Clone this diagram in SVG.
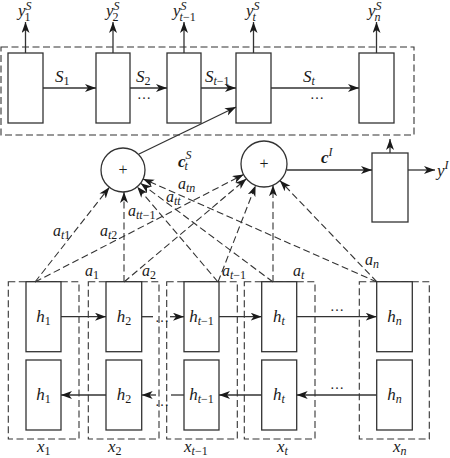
<svg xmlns="http://www.w3.org/2000/svg" width="450" height="458" viewBox="0 0 450 458">
<defs>
<style>
.box{fill:#fff;stroke:#333;stroke-width:1.3}
.dbox{fill:none;stroke:#333;stroke-width:1.1;stroke-dasharray:7 3.5}
.ln{stroke:#333;stroke-width:1.3;fill:none}
.dl{stroke:#333;stroke-width:1.1;stroke-dasharray:7 3.5;fill:none}
.arr{marker-end:url(#ah)}
text{font-family:"Liberation Serif","Times New Roman","DejaVu Serif",serif;font-style:italic;font-size:17px;fill:#1a1a1a}
.m{text-anchor:middle}
.s{font-size:12px}
.u{font-style:normal}
.b{font-weight:bold}
.dots{font-style:normal;font-size:14px}
</style>
<marker id="ah" markerUnits="userSpaceOnUse" markerWidth="12" markerHeight="9" refX="11" refY="4" orient="auto">
<path d="M0,0 L11,4 L0,8 L3,4 Z" fill="#1a1a1a" stroke="none"/>
</marker>
</defs>
<rect width="450" height="458" fill="#fff"/>

<g id="decoder-frame"><rect class="dbox" x="1" y="47" width="413" height="88"/></g>

<g id="s1"><rect class="box" x="8" y="53" width="35" height="70"/></g>
<g id="s2"><rect class="box" x="96" y="53" width="34" height="70"/></g>
<g id="s3"><rect class="box" x="167" y="53" width="34" height="70"/></g>
<g id="s4"><rect class="box" x="236" y="53" width="35" height="70"/></g>
<g id="s5"><rect class="box" x="359" y="53" width="35" height="70"/></g>

<g id="ys-labels">
<text x="18" y="16">y<tspan class="s" dy="-6">S</tspan><tspan class="s u" dx="-7" dy="11">1</tspan></text>
<text x="106" y="16">y<tspan class="s" dy="-6">S</tspan><tspan class="s u" dx="-7" dy="11">2</tspan></text>
<text x="173" y="16">y<tspan class="s" dy="-6">S</tspan><tspan class="s" dx="-7" dy="11">t</tspan><tspan class="s u">−1</tspan></text>
<text x="246" y="16">y<tspan class="s" dy="-6">S</tspan><tspan class="s" dx="-7" dy="11">t</tspan></text>
<text x="368" y="16">y<tspan class="s" dy="-6">S</tspan><tspan class="s" dx="-7" dy="11">n</tspan></text>
</g>

<g id="sum1"><circle class="box" cx="123" cy="170" r="22"/><text class="m u" x="123" y="175" style="font-size:16px">+</text></g>
<g id="sum2"><circle class="box" cx="264" cy="164" r="23"/><text class="m u" x="264" y="169" style="font-size:16px">+</text></g>
<g id="out"><rect class="box" x="372" y="153" width="36" height="69"/></g>

<g id="cols">
<rect class="dbox" x="8.3" y="281.7" width="70.7" height="157.3"/>
<rect class="dbox" x="88.3" y="281.7" width="70.7" height="157.3"/>
<rect class="dbox" x="166.7" y="281.7" width="70.6" height="157.3"/>
<rect class="dbox" x="244.3" y="281.7" width="70.7" height="157.3"/>
<rect class="dbox" x="359.3" y="281.7" width="70" height="157.3"/>
</g>

<g id="h1"><rect class="box" x="26" y="281.7" width="35" height="70"/><rect class="box" x="26" y="360" width="35" height="70"/>
<text class="m" x="43.5" y="322">h<tspan class="s u" dy="3">1</tspan></text><text class="m" x="43.5" y="400">h<tspan class="s u" dy="3">1</tspan></text></g>
<g id="h2"><rect class="box" x="106" y="281.7" width="35.7" height="70"/><rect class="box" x="106" y="360" width="35.7" height="70"/>
<text class="m" x="124" y="322">h<tspan class="s u" dy="3">2</tspan></text><text class="m" x="124" y="400">h<tspan class="s u" dy="3">2</tspan></text></g>
<g id="h3"><rect class="box" x="184" y="281.7" width="35" height="70"/><rect class="box" x="184" y="360" width="35" height="70"/>
<text class="m" x="201.5" y="322">h<tspan class="s" dy="3">t</tspan><tspan class="s u">−1</tspan></text><text class="m" x="201.5" y="400">h<tspan class="s" dy="3">t</tspan><tspan class="s u">−1</tspan></text></g>
<g id="h4"><rect class="box" x="261.7" y="281.7" width="35" height="70"/><rect class="box" x="261.7" y="360" width="35" height="70"/>
<text class="m" x="279" y="322">h<tspan class="s" dy="3">t</tspan></text><text class="m" x="279" y="400">h<tspan class="s" dy="3">t</tspan></text></g>
<g id="h5"><rect class="box" x="376.7" y="281.7" width="35.6" height="70"/><rect class="box" x="376.7" y="360" width="35.6" height="70"/>
<text class="m" x="394.5" y="322">h<tspan class="s" dy="3">n</tspan></text><text class="m" x="394.5" y="400">h<tspan class="s" dy="3">n</tspan></text></g>

<g id="x-labels">
<text x="37" y="452">x<tspan class="s u" dy="3">1</tspan></text>
<text x="108" y="452">x<tspan class="s u" dy="3">2</tspan></text>
<text x="184" y="452">x<tspan class="s" dy="3">t</tspan><tspan class="s u">−1</tspan></text>
<text x="277" y="452">x<tspan class="s" dy="3">t</tspan></text>
<text x="393" y="452">x<tspan class="s" dy="3">n</tspan></text>
</g>

<g id="connectors">
<line class="ln arr" x1="25.5" y1="53" x2="25.5" y2="22"/>
<line class="ln arr" x1="113" y1="53" x2="113" y2="22"/>
<line class="ln arr" x1="184" y1="53" x2="184" y2="22"/>
<line class="ln arr" x1="253.5" y1="53" x2="253.5" y2="22"/>
<line class="ln arr" x1="376.5" y1="53" x2="376.5" y2="22"/>
<line class="ln arr" x1="43" y1="88" x2="96" y2="88"/>
<line class="ln arr" x1="130" y1="88" x2="167" y2="88"/>
<line class="ln arr" x1="201" y1="88" x2="236" y2="88"/>
<line class="ln arr" x1="271" y1="88" x2="359" y2="88"/>
<line class="ln arr" x1="139" y1="154" x2="236" y2="107"/>
<line class="ln arr" x1="287" y1="170" x2="372" y2="170"/>
<line class="ln arr" x1="390" y1="153" x2="390" y2="139"/>
<line class="ln arr" x1="408" y1="170" x2="435" y2="170"/>
<line class="ln arr" x1="61" y1="316.7" x2="106" y2="316.7"/>
<line class="ln" x1="141.7" y1="316.7" x2="153" y2="316.7"/>
<line class="ln arr" x1="170" y1="316.7" x2="184" y2="316.7"/>
<line class="ln arr" x1="219" y1="316.7" x2="261.7" y2="316.7"/>
<line class="ln arr" x1="296.7" y1="316.7" x2="376.7" y2="316.7"/>
<line class="ln arr" x1="376.7" y1="395" x2="296.7" y2="395"/>
<line class="ln arr" x1="261.7" y1="395" x2="219" y2="395"/>
<line class="ln" x1="184" y1="395" x2="171" y2="395"/>
<line class="ln arr" x1="156" y1="395" x2="141.7" y2="395"/>
<line class="ln arr" x1="106" y1="395" x2="61" y2="395"/>
<line class="dl arr" x1="35" y1="282" x2="109.4" y2="187.3"/>
<line class="dl arr" x1="124" y1="282" x2="124" y2="192"/>
<line class="dl arr" x1="218" y1="282" x2="137.2" y2="186.8"/>
<line class="dl arr" x1="273" y1="282" x2="140.6" y2="183.2"/>
<line class="dl arr" x1="377" y1="282" x2="143.1" y2="178.9"/>
<line class="dl arr" x1="35" y1="282" x2="243.6" y2="174.5"/>
<line class="dl arr" x1="124" y1="282" x2="246.4" y2="178.8"/>
<line class="dl arr" x1="218" y1="282" x2="255.6" y2="185.4"/>
<line class="dl arr" x1="273" y1="282" x2="273" y2="185.2"/>
<line class="dl arr" x1="377" y1="282" x2="279.9" y2="180.6"/>
</g>

<g id="labels">
<text x="55" y="82">S<tspan class="s u" dy="3">1</tspan></text>
<text x="136" y="82">S<tspan class="s u" dy="3">2</tspan></text>
<text x="205" y="82">S<tspan class="s" dy="3">t</tspan><tspan class="s u">−1</tspan></text>
<text x="303" y="82">S<tspan class="s" dy="3">t</tspan></text>
<text class="dots" x="137" y="99">…</text>
<text class="dots" x="310" y="99">…</text>
<text class="dots" x="155" y="322">…</text>
<text class="dots" x="330" y="311">…</text>
<text class="dots" x="330" y="389">…</text>
<text class="dots" x="155" y="406">…</text>
<text class="b" x="178" y="167">c<tspan class="s" dy="-8" style="font-weight:normal">S</tspan><tspan class="s" dx="-7" dy="11" style="font-weight:normal">t</tspan></text>
<text class="b" x="321" y="163">c<tspan class="s" dy="-7" style="font-weight:normal">I</tspan></text>
<text x="437" y="176">y<tspan class="s" dy="-7">I</tspan></text>
<text style="font-size:16px" x="53" y="236">a<tspan class="s" dy="3">t</tspan><tspan class="s u">1</tspan></text>
<text style="font-size:16px" x="100" y="236">a<tspan class="s" dy="3">t</tspan><tspan class="s u">2</tspan></text>
<text style="font-size:16px" x="128" y="216">a<tspan class="s" dy="3">tt</tspan><tspan class="s u">−1</tspan></text>
<text style="font-size:16px" x="166" y="202">a<tspan class="s" dy="3">tt</tspan></text>
<text style="font-size:16px" x="178" y="189">a<tspan class="s" dy="3">tn</tspan></text>
<text style="font-size:16px" x="85" y="276">a<tspan class="s u" dy="3">1</tspan></text>
<text style="font-size:16px" x="142" y="276">a<tspan class="s u" dy="3">2</tspan></text>
<text style="font-size:16px" x="222" y="276">a<tspan class="s" dy="3">t</tspan><tspan class="s u">−1</tspan></text>
<text style="font-size:16px" x="293" y="276">a<tspan class="s" dy="3">t</tspan></text>
<text style="font-size:16px" x="365" y="265">a<tspan class="s" dy="3">n</tspan></text>
</g>
</svg>
